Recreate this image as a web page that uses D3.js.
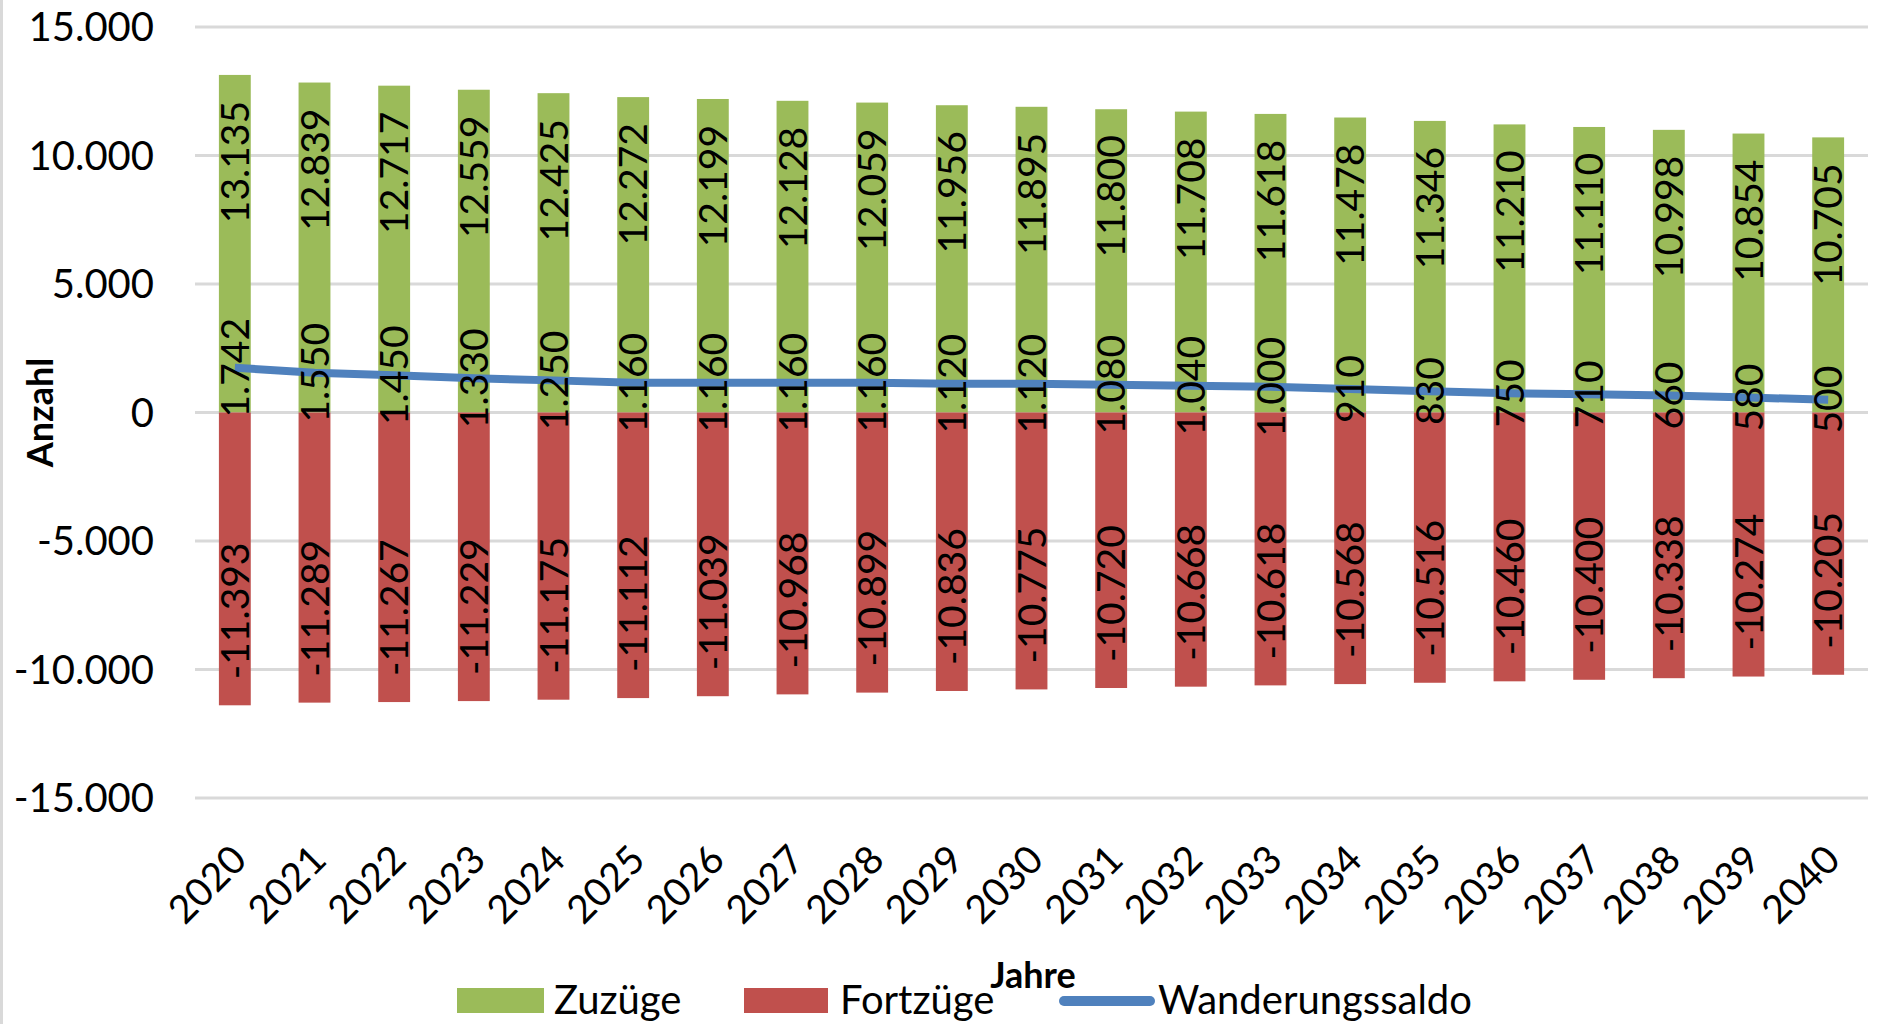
<!DOCTYPE html>
<html lang="de">
<head>
<meta charset="utf-8">
<title>Wanderungen</title>
<script src="https://d3js.org/d3.v7.min.js"></script>
<style>
  body { margin: 0; background: #fff; }
  text { font-family: Lato, "Open Sans", sans-serif; fill: #000; }
</style>
</head>
<body>
<script>
const GREEN = '#9bbb59';
const RED = '#c0504d';
const BLUE = '#4f81bd';
const GRID = '#d9d9d9';

const years = ['2020','2021','2022','2023','2024','2025','2026','2027','2028','2029','2030',
               '2031','2032','2033','2034','2035','2036','2037','2038','2039','2040'];
const zuzuege = [13135,12839,12717,12559,12425,12272,12199,12128,12059,11956,11895,
                 11800,11708,11618,11478,11346,11210,11110,10998,10854,10705];
const fortzuege = [-11393,-11289,-11267,-11229,-11175,-11112,-11039,-10968,-10899,-10836,-10775,
                   -10720,-10668,-10618,-10568,-10516,-10460,-10400,-10338,-10274,-10205];
const saldo = [1742,1550,1450,1330,1250,1160,1160,1160,1160,1120,1120,
               1080,1040,1000,910,830,750,710,660,580,500];
const yTicks = [-15000,-10000,-5000,0,5000,10000,15000];

const width = 1878,
      height = 1024,
      plotLeft = 195,
      plotRight = 1868,
      plotTop = 27,
      plotBottom = 798;

const de = d3.formatLocale({decimal: ',', thousands: '.', grouping: [3], currency: ['', ' €'], minus: '-'});
const fmt = de.format(',d');

const svg = d3.select('body').append('svg')
    .attr('width', width)
    .attr('height', height);

// chart area border (left edge only visible)
svg.append('line')
    .attr('x1', 1.5).attr('x2', 1.5)
    .attr('y1', 0).attr('y2', height)
    .attr('stroke', GRID).attr('stroke-width', 3);

const x = d3.scaleBand().domain(years).range([plotLeft, plotRight]).paddingInner(0.6).paddingOuter(0.3);
const y = d3.scaleLinear().domain([-15000, 15000]).range([plotBottom, plotTop]);

// gridlines + y labels
const yAxis = svg.append('g');
yAxis.selectAll('line').data(yTicks).join('line')
    .attr('x1', plotLeft).attr('x2', plotRight)
    .attr('y1', d => y(d)).attr('y2', d => y(d))
    .attr('stroke', GRID).attr('stroke-width', 3);
yAxis.selectAll('text').data(yTicks).join('text')
    .attr('x', 154)
    .attr('y', d => y(d))
    .attr('dy', '0.36em')
    .attr('text-anchor', 'end')
    .style('font-size', '40px')
    .text(d => fmt(d));

// bars
const bars = svg.append('g');
bars.selectAll('rect.zu').data(zuzuege).join('rect')
    .attr('class', 'zu')
    .attr('x', (d, i) => x(years[i]))
    .attr('width', x.bandwidth())
    .attr('y', d => y(d))
    .attr('height', d => y(0) - y(d))
    .attr('fill', GREEN);
bars.selectAll('rect.fort').data(fortzuege).join('rect')
    .attr('class', 'fort')
    .attr('x', (d, i) => x(years[i]))
    .attr('width', x.bandwidth())
    .attr('y', y(0))
    .attr('height', d => y(d) - y(0))
    .attr('fill', RED);

// saldo line
const cx = d => x(d) + x.bandwidth() / 2;
const line = d3.line()
    .x((d, i) => cx(years[i]))
    .y(d => y(d));
svg.append('path')
    .datum(saldo)
    .attr('d', line)
    .attr('fill', 'none')
    .attr('stroke', BLUE)
    .attr('stroke-width', 8)
    .attr('stroke-linejoin', 'round');

// data labels
const labels = svg.append('g').style('font-size', '39px');
labels.selectAll('text.zu').data(zuzuege).join('text')
    .attr('class', 'zu')
    .attr('transform', (d, i) => `translate(${cx(years[i])},${y(d) + 26}) rotate(-90)`)
    .attr('dy', '0.36em')
    .attr('text-anchor', 'end')
    .text(d => fmt(d));
labels.selectAll('text.fort').data(fortzuege).join('text')
    .attr('class', 'fort')
    .attr('transform', (d, i) => `translate(${cx(years[i])},${y(d) - 26}) rotate(-90)`)
    .attr('dy', '0.36em')
    .attr('text-anchor', 'start')
    .text(d => fmt(d));
labels.selectAll('text.saldo').data(saldo).join('text')
    .attr('class', 'saldo')
    .attr('transform', (d, i) => `translate(${cx(years[i])},${y(d)}) rotate(-90)`)
    .attr('dy', '0.36em')
    .attr('text-anchor', 'middle')
    .text(d => fmt(d));

// x labels
svg.append('g').selectAll('text').data(years).join('text')
    .attr('transform', d => `translate(${cx(d) + 14},862) rotate(-45)`)
    .attr('text-anchor', 'end')
    .style('font-size', '39px')
    .text(d => d);

// axis titles
svg.append('text')
    .attr('transform', `translate(40,${(plotTop + plotBottom) / 2}) rotate(-90)`)
    .attr('dy', '0.36em')
    .attr('text-anchor', 'middle')
    .style('font-size', '36px')
    .style('font-weight', 'bold')
    .text('Anzahl');
svg.append('text')
    .attr('x', 1033).attr('y', 988)
    .attr('text-anchor', 'middle')
    .style('font-size', '36px')
    .style('font-weight', 'bold')
    .text('Jahre');

// legend
const legend = svg.append('g').style('font-size', '40px');
legend.append('rect').attr('x', 457).attr('y', 988).attr('width', 87).attr('height', 25).attr('fill', GREEN);
legend.append('text').attr('x', 554).attr('y', 1014).text('Zuzüge');
legend.append('rect').attr('x', 744).attr('y', 988).attr('width', 84).attr('height', 25).attr('fill', RED);
legend.append('text').attr('x', 840).attr('y', 1014).text('Fortzüge');
legend.append('line').attr('x1', 1064).attr('x2', 1150).attr('y1', 1001).attr('y2', 1001)
    .attr('stroke', BLUE).attr('stroke-width', 10).attr('stroke-linecap', 'round');
legend.append('text').attr('x', 1158).attr('y', 1014).text('Wanderungssaldo');
</script>
</body>
</html>
